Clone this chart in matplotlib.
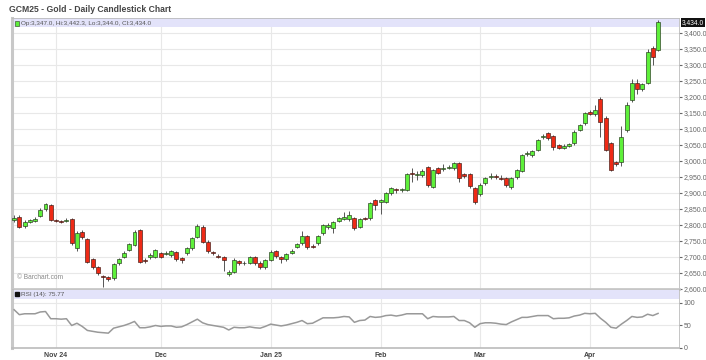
import numpy as np
import matplotlib.pyplot as plt
from matplotlib.patches import Rectangle
from matplotlib.ticker import StrMethodFormatter

plt.rcParams['font.family'] = ['Liberation Sans', 'DejaVu Sans']

# daily OHLC (GCM25), Oct 22 2024 -> Apr 21 2025
opens = [2815, 2826, 2796, 2810, 2814, 2828, 2849, 2862, 2817, 2812,
         2812, 2818, 2728, 2779, 2755, 2693, 2668, 2640, 2636, 2633,
         2680, 2701, 2722, 2737, 2784, 2692, 2699, 2701, 2713, 2710,
         2706, 2717, 2696, 2711, 2727, 2763, 2795, 2748, 2716, 2704,
         2699, 2646, 2654, 2686, 2680, 2682, 2699, 2682, 2668, 2690,
         2718, 2699, 2693, 2713, 2732, 2743, 2765, 2735, 2743, 2774,
         2795, 2790, 2812, 2820, 2818, 2821, 2795, 2823, 2821, 2878,
         2871, 2873, 2899, 2912, 2908, 2909, 2964, 2956, 2956, 2980,
         2920, 2977, 2974, 2979, 2977, 2995, 2958, 2958, 2915, 2897,
         2930, 2950, 2952, 2948, 2946, 2918, 2949, 2970, 3022, 3019,
         3034, 3074, 3087, 3079, 3050, 3042, 3048, 3055, 3097, 3118,
         3154, 3147, 3194, 3133, 3055, 2998, 2996, 3097, 3191, 3243,
         3225, 3243, 3354, 3347]
highs = [2830, 2832, 2815, 2820, 2826, 2852, 2870, 2866, 2820, 2815,
         2822, 2822, 2780, 2784, 2760, 2697, 2672, 2645, 2640, 2682,
         2697, 2718, 2745, 2784, 2788, 2696, 2712, 2726, 2716, 2718,
         2722, 2720, 2700, 2732, 2762, 2802, 2800, 2752, 2719, 2708,
         2702, 2658, 2696, 2690, 2686, 2703, 2703, 2686, 2694, 2722,
         2722, 2703, 2714, 2725, 2745, 2780, 2770, 2740, 2770, 2804,
         2806, 2814, 2826, 2840, 2845, 2826, 2822, 2826, 2872, 2882,
         2882, 2904, 2920, 2916, 2916, 2964, 2978, 2968, 2975, 2985,
         2976, 2980, 2990, 2988, 2997, 2998, 2962, 2962, 2918, 2930,
         2950, 2962, 2958, 2955, 2950, 2950, 2976, 3022, 3032, 3036,
         3070, 3085, 3090, 3082, 3054, 3052, 3056, 3096, 3116, 3153,
         3158, 3175, 3201, 3140, 3060, 3000, 3110, 3185, 3255, 3255,
         3244, 3350, 3358, 3442.3]
lows = [2810, 2790, 2790, 2805, 2810, 2825, 2845, 2812, 2810, 2806,
        2808, 2738, 2718, 2756, 2682, 2662, 2645, 2607, 2625, 2628,
        2676, 2697, 2718, 2733, 2680, 2682, 2694, 2697, 2696, 2706,
        2700, 2688, 2680, 2706, 2722, 2758, 2745, 2714, 2707, 2696,
        2655, 2642, 2650, 2676, 2676, 2678, 2676, 2664, 2664, 2686,
        2698, 2680, 2688, 2708, 2728, 2738, 2726, 2727, 2738, 2770,
        2788, 2775, 2808, 2816, 2814, 2785, 2790, 2816, 2817, 2848,
        2835, 2868, 2895, 2900, 2904, 2905, 2935, 2940, 2950, 2920,
        2915, 2958, 2970, 2975, 2972, 2935, 2948, 2915, 2865, 2892,
        2925, 2944, 2944, 2940, 2918, 2912, 2944, 2966, 3015, 3014,
        3030, 3068, 3066, 3035, 3038, 3038, 3044, 3050, 3093, 3114,
        3143, 3140, 3075, 3030, 2968, 2985, 2985, 3090, 3186, 3208,
        3220, 3240, 3300, 3344]
closes = [2823, 2795, 2810, 2815, 2820, 2847, 2865, 2815, 2814, 2810,
          2817, 2743, 2775, 2761, 2685, 2668, 2649, 2636, 2630, 2678,
          2693, 2713, 2740, 2779, 2685, 2688, 2706, 2722, 2701, 2713,
          2718, 2693, 2690, 2727, 2758, 2797, 2748, 2719, 2711, 2700,
          2690, 2654, 2690, 2680, 2682, 2699, 2680, 2668, 2690, 2717,
          2703, 2693, 2710, 2720, 2740, 2765, 2730, 2731, 2765, 2800,
          2801, 2810, 2822, 2824, 2831, 2790, 2818, 2820, 2868, 2862,
          2878, 2899, 2915, 2908, 2912, 2960, 2960, 2959, 2970, 2925,
          2972, 2962, 2978, 2980, 2993, 2946, 2954, 2922, 2873, 2925,
          2946, 2954, 2949, 2945, 2925, 2946, 2972, 3019, 3025, 3032,
          3066, 3078, 3071, 3045, 3042, 3048, 3053, 3092, 3112, 3149,
          3147, 3161, 3121, 3034, 2972, 2990, 3076, 3175, 3243, 3225,
          3240, 3342, 3326, 3434]
rsi = [84, 73, 75, 75, 75, 79, 80, 64, 64, 63,
       64, 49, 54, 47, 38, 36, 34, 33, 32, 43,
       46, 49, 53, 58, 44, 44, 46, 49, 47, 48,
       48, 45, 46, 51, 57, 63, 55, 51, 49, 47,
       45, 39, 45, 44, 44, 46, 44, 43, 47, 52,
       50, 48, 50, 53, 56, 60, 53, 54, 60, 66,
       66, 66, 67, 69, 68, 56, 60, 61, 69, 67,
       68, 71, 72, 70, 72, 75, 75, 75, 75, 64,
       69, 68, 68, 68, 69, 60, 60, 55, 45, 53,
       55, 55, 54, 52, 51, 57, 62, 67, 67, 69,
       71, 71, 71, 64, 65, 65, 66, 70, 72, 76,
       75, 76, 65, 56, 45, 43, 52, 60, 69, 67,
       68, 74, 71, 75.77]

month_pos = [8, 28, 49, 70, 89, 110]
month_labels = ['Nov 24', 'Dec', 'Jan 25', 'Feb', 'Mar', 'Apr']
price_ticks = np.arange(2600, 3401, 50)

o = np.array(opens, dtype=float)
h = np.array(highs, dtype=float)
l = np.array(lows, dtype=float)
c = np.array(closes, dtype=float)
x = np.arange(len(c))
up = c >= o

fig = plt.figure(figsize=(7.06, 3.6), dpi=100)
ax = fig.add_axes([12/706, 1-289/360, 667/706, 271/360])
ax2 = fig.add_axes([12/706, 1-348/360, 667/706, 59/360], sharex=ax)

grid_col = '#e8e8e8'

# price panel
ax.vlines(x, l, h, color='#555555', lw=0.7, zorder=2)
ax.bar(x[up], (c - o)[up], bottom=o[up], width=0.76, color='#5ef03a',
       edgecolor='#24331b', lw=0.45, zorder=3)
ax.bar(x[~up], (o - c)[~up], bottom=c[~up], width=0.76, color='#ee2a16',
       edgecolor='#3a1a14', lw=0.45, zorder=3)
ax.set_xlim(-0.4, 127)
ax.set_ylim(2600, 3447)
ax.set_yticks(price_ticks)
ax.yaxis.set_major_formatter(StrMethodFormatter('{x:,.1f}'))
ax.yaxis.tick_right()
ax.tick_params(axis='y', length=2, pad=1.5, labelsize=5, colors='#666666')
ax.tick_params(axis='x', length=0, labelbottom=False)
ax.set_xticks(month_pos)
ax.grid(True, color=grid_col, lw=0.8, zorder=0)
ax.set_axisbelow(True)
for s in ['top', 'bottom', 'right']:
    ax.spines[s].set_color('#bbbbbb')
    ax.spines[s].set_linewidth(0.6)
ax.spines['bottom'].set_linewidth(2.0)
ax.spines['bottom'].set_color('#c8c8c8')
ax.spines['left'].set_color('#c8c8c8')
ax.spines['left'].set_linewidth(2.2)

ax.add_patch(Rectangle((0, 1 - 9/271), 1, 9/271, transform=ax.transAxes,
                       color='#e3e3fa', zorder=1, lw=0))
ax.add_patch(Rectangle((0.004, 0.972), 0.006, 0.018, transform=ax.transAxes,
                       facecolor='#5ef03a', edgecolor='#2b3a20', lw=0.4, zorder=4))
ax.text(0.013, 0.981,
        'Op:{:,.1f}, Hi:{:,.1f}, Lo:{:,.1f}, Cl:{:,.1f}'.format(o[-1], h[-1], l[-1], c[-1]),
        transform=ax.transAxes, fontsize=4.6, color='#555555', va='center', zorder=4)
ax.text(0.008, 0.03, '\u00a9 Barchart.com', transform=ax.transAxes,
        fontsize=4.8, color='#888888', va='bottom')
ax.text(1.004, c[-1], '{:,.1f}'.format(c[-1]), transform=ax.get_yaxis_transform(),
        fontsize=4.8, color='white', va='center', ha='left',
        bbox=dict(boxstyle='square,pad=0.15', fc='#111111', ec='none'))

fig.text(9/706, 1-9/360, 'GCM25 - Gold - Daily Candlestick Chart', fontsize=6.2,
         fontweight='bold', color='#444444', va='center')

# RSI panel
ax2.plot(x, rsi, color='#999999', lw=1.1, zorder=3)
ax2.set_ylim(-1, 130)
ax2.set_yticks([0, 50, 100])
ax2.yaxis.tick_right()
ax2.tick_params(axis='y', length=2, pad=1.5, labelsize=5, colors='#666666')
ax2.set_xticks(month_pos)
ax2.set_xticklabels(month_labels)
ax2.tick_params(axis='x', length=0, pad=3, labelsize=5, colors='#444444')
for t in ax2.get_xticklabels():
    t.set_fontweight('bold')
ax2.grid(True, color=grid_col, lw=0.8, zorder=0)
ax2.set_axisbelow(True)
for s in ['top', 'right', 'bottom']:
    ax2.spines[s].set_color('#bbbbbb')
    ax2.spines[s].set_linewidth(0.6)
ax2.spines['bottom'].set_linewidth(1.2)
ax2.spines['left'].set_color('#c8c8c8')
ax2.spines['left'].set_linewidth(2.2)
ax2.add_patch(Rectangle((0, 0.83), 1, 0.155, transform=ax2.transAxes,
                        color='#e3e3fa', zorder=1, lw=0))
ax2.add_patch(Rectangle((0.004, 0.875), 0.006, 0.075, transform=ax2.transAxes,
                        color='#111111', zorder=4))
ax2.text(0.013, 0.91, 'RSI (14): {:.2f}'.format(rsi[-1]), transform=ax2.transAxes,
         fontsize=4.6, color='#555555', va='center', zorder=4)

fig.savefig('out.png', dpi=100)
